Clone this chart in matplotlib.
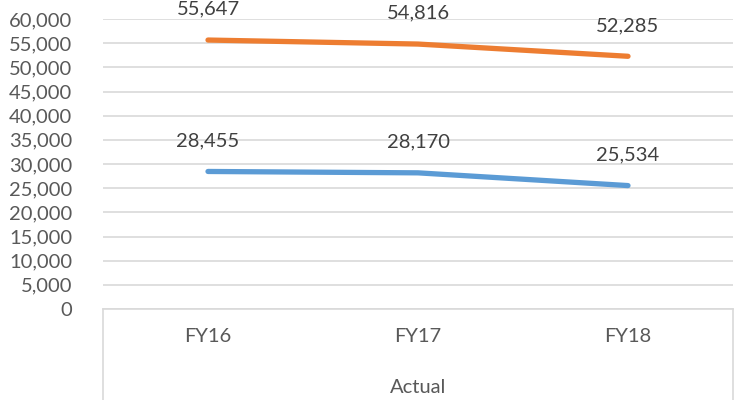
import matplotlib.pyplot as plt
from matplotlib.ticker import FuncFormatter

categories = ["FY16", "FY17", "FY18"]
group_label = "Actual"
series_top = [55647, 54816, 52285]
series_bottom = [28455, 28170, 25534]

plt.rcParams["font.family"] = ["Lato", "DejaVu Sans"]

fig = plt.figure(figsize=(7.4, 4.0), dpi=100)
ax = fig.add_axes([103 / 740, 1 - 309 / 400, 630 / 740, 290 / 400])

x = list(range(len(categories)))
ax.plot(x, series_top, color="#ED7D31", lw=3.8, solid_capstyle="round", zorder=3)
ax.plot(x, series_bottom, color="#5B9BD5", lw=3.8, solid_capstyle="round", zorder=3)

for vals in (series_top, series_bottom):
    for xi, v in zip(x, vals):
        ax.annotate(f"{v:,}", (xi, v), xytext=(0, 16), textcoords="offset points",
                    ha="center", va="bottom", fontsize=14.5, color="#404040",
                    annotation_clip=False)

ax.set_xlim(-0.5, 2.5)
ax.set_ylim(0, 60000)
ax.set_yticks(range(0, 60001, 5000))
ax.yaxis.set_major_formatter(FuncFormatter(lambda v, p: f"{int(v):,}"))
ax.grid(axis="y", color="#D9D9D9", lw=1.2)
ax.set_axisbelow(True)

for s in ["top", "right", "left"]:
    ax.spines[s].set_visible(False)
ax.spines["bottom"].set_color("#D9D9D9")
ax.spines["bottom"].set_linewidth(1.2)

ax.tick_params(axis="y", length=0, labelsize=14.5, labelcolor="#595959", pad=22)
ax.set_xticks(x)
ax.set_xticklabels(categories)
ax.tick_params(axis="x", length=0, labelsize=14.5, labelcolor="#595959", pad=14)

# group separators below the axis
depth = 91 / 290
for xe in (0, 1):
    ax.plot([xe, xe], [0, -depth], transform=ax.transAxes, color="#D9D9D9",
            lw=1.2, clip_on=False)
ax.text(0.5, -0.27, group_label, transform=ax.transAxes, ha="center", va="center",
        fontsize=14.5, color="#595959")

fig.savefig("out.png", dpi=100)
